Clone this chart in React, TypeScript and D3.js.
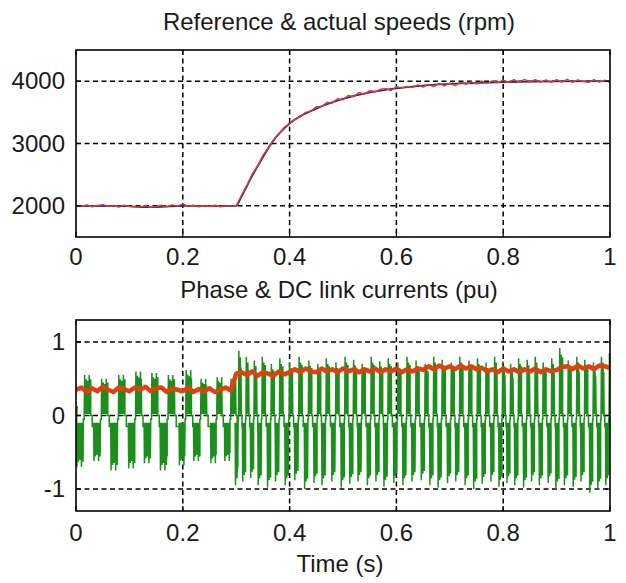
import React from "react";
import * as d3 from "d3";

// ---------- data ----------
const X_TICKS = [0, 0.2, 0.4, 0.6, 0.8, 1];
const X_TICK_LABELS = ["0", "0.2", "0.4", "0.6", "0.8", "1"];
const SPEED_TICKS = [2000, 3000, 4000];
const SPEED_TICK_LABELS = ["2000", "3000", "4000"];
const CURRENT_TICKS = [-1, 0, 1];
const CURRENT_TICK_LABELS = ["-1", "0", "1"];

const TITLE_SPEED = "Reference & actual speeds (rpm)";
const TITLE_CURRENT = "Phase & DC link currents (pu)";
const X_LABEL = "Time (s)";

// reference speed (blue), key points
const REF_T = [0, 0.1, 0.12, 0.15, 0.2, 0.3, 0.31, 0.33, 0.35, 0.37, 0.4, 0.45, 0.5, 0.55, 0.6, 0.65, 0.7, 0.8, 0.9, 1.0];
const REF_SPEED = [2000, 1995, 1980, 1980, 2000, 2000, 2150, 2480, 2780, 3050, 3320, 3560, 3715, 3820, 3885, 3930, 3955, 3985, 3998, 4000];

// actual speed (red), sampled every 0.01 s from 0 to 1
const SAMPLE_STEP = 0.01;
const ACT_SPEED = [
  2010, 1990, 2015, 1985, 2005, 2020, 1990, 2005, 1980, 2010,
  1990, 1985, 1980, 2005, 1975, 1990, 2010, 1985, 2015, 1995,
  2030, 1990, 2010, 1985, 2005, 1990, 2010, 1985, 1995, 2000,
  2000, 2170, 2330, 2510, 2640, 2810, 2930, 3060, 3150, 3260,
  3320, 3390, 3430, 3500, 3520, 3590, 3590, 3660, 3650, 3720,
  3700, 3770, 3750, 3820, 3790, 3850, 3830, 3870, 3880, 3850,
  3910, 3890, 3915, 3900, 3940, 3905, 3950, 3910, 3965, 3925,
  3970, 3930, 3980, 3950, 3990, 3955, 4000, 3965, 4005, 3975,
  4015, 3980, 4025, 3985, 4030, 3990, 4025, 3985, 4020, 3980,
  4025, 3985, 4030, 3980, 4020, 3995, 3980, 4025, 3985, 4015,
  3975,
];

// DC link current (red), sampled every 0.01 s from 0 to 1
const DC_CURRENT = [
  0.35, 0.38, 0.32, 0.37, 0.33, 0.39, 0.35, 0.32, 0.38, 0.36,
  0.33, 0.38, 0.35, 0.39, 0.33, 0.37, 0.38, 0.32, 0.37, 0.35,
  0.33, 0.38, 0.32, 0.36, 0.33, 0.37, 0.32, 0.35, 0.38, 0.34,
  0.57,
  0.59, 0.55, 0.60, 0.54, 0.59, 0.57, 0.54, 0.60, 0.56, 0.59,
  0.63, 0.59, 0.64, 0.60, 0.59, 0.64, 0.60, 0.63, 0.59, 0.64,
  0.60, 0.63, 0.59, 0.63, 0.60, 0.64, 0.59, 0.63, 0.60, 0.64,
  0.59, 0.63, 0.60, 0.64, 0.62,
  0.67, 0.63, 0.68, 0.64, 0.67, 0.63, 0.68, 0.64, 0.67, 0.63, 0.65,
  0.60, 0.63, 0.59, 0.64, 0.60, 0.63, 0.59, 0.63, 0.60, 0.64, 0.59, 0.63, 0.60, 0.62,
  0.66, 0.67, 0.63, 0.68, 0.64, 0.67, 0.63, 0.68, 0.67, 0.65,
];

// phase current (green): per-cycle positive spike times and peaks
const PRE_SPIKES = [0.017, 0.049, 0.081, 0.113, 0.143, 0.174, 0.207, 0.235, 0.265, 0.291];
const PRE_POS = [0.55, 0.5, 0.55, 0.6, 0.58, 0.55, 0.62, 0.5, 0.52, 0.5];
const PRE_NEG = [-0.7, -0.62, -0.75, -0.72, -0.65, -0.75, -0.68, -0.62, -0.65, -0.62];

const POST_SPIKES = [
  0.305, 0.319, 0.334, 0.349, 0.366, 0.382, 0.400, 0.418, 0.436, 0.453,
  0.469, 0.487, 0.504, 0.520, 0.536, 0.553, 0.569, 0.585, 0.603, 0.620,
  0.637, 0.654, 0.670, 0.686, 0.703, 0.719, 0.736, 0.752, 0.768, 0.784,
  0.799, 0.814, 0.829, 0.845, 0.860, 0.875, 0.891, 0.906, 0.922, 0.938,
  0.953, 0.969, 0.984, 0.999,
];
const POST_POS = [
  0.88, 0.8, 0.75, 0.8, 0.7, 0.78, 0.72, 0.8, 0.75, 0.7,
  0.78, 0.72, 0.8, 0.76, 0.7, 0.8, 0.74, 0.78, 0.72, 0.8,
  0.75, 0.7, 0.8, 0.76, 0.72, 0.8, 0.75, 0.78, 0.72, 0.8,
  0.74, 0.7, 0.78, 0.76, 0.8, 0.72, 0.78, 0.92, 0.75, 0.8,
  0.76, 0.72, 0.8, 0.85,
];
const POST_NEG = [
  -0.95, -0.9, -0.85, -0.95, -0.98, -0.9, -0.95, -0.88, -1.0, -0.92,
  -0.95, -0.9, -0.98, -0.93, -0.9, -0.95, -0.9, -0.97, -0.92, -0.95,
  -0.9, -0.88, -0.95, -0.98, -0.92, -0.9, -0.95, -1.0, -0.93, -0.9,
  -0.97, -0.92, -0.95, -0.98, -0.9, -0.95, -0.92, -1.0, -0.95, -0.97,
  -0.9, -1.05, -1.0, -0.95,
];
// relative height of successive PWM chopping swings
const CHOP = [1, 0.82, 0.9, 0.74, 0.86, 0.78];

// ---------- helpers ----------
type Pt = [number, number];
type Block = { t0: number; t1: number; lo: number; hi: number };

function zigzag(pts: Pt[], t0: number, t1: number, lo: number, hi: number) {
  const step = 0.0007;
  const n = Math.max(2, Math.round((t1 - t0) / step));
  for (let k = 0; k <= n; k++) {
    const t = t0 + ((t1 - t0) * k) / n;
    const v = k % 2 === 0 ? lo : hi * CHOP[(k >> 1) % CHOP.length];
    pts.push([t, v]);
  }
}

function phaseCycles(pts: Pt[], blocks: Block[], spikes: number[], pos: number[], neg: number[]) {
  const n = Math.min(spikes.length, pos.length, neg.length);
  for (let i = 0; i < n; i++) {
    const ts = spikes[i];
    const p = i < n - 1 ? spikes[i + 1] - ts : ts - spikes[i - 1];
    const P = pos[i];
    const N = neg[i];
    const a = ts - 0.5 * p;
    const b = ts - 0.1 * p;
    const c = ts - 0.05 * p;
    const d = ts + 0.33 * p;
    const m = (d + ts + 0.5 * p) / 2;
    pts.push([a, -0.15]);
    zigzag(pts, a, b, -0.1, N);
    pts.push([b, -0.05], [c, -0.05]);
    zigzag(pts, c, d, 0.02, P);
    pts.push([d, 0], [m, 0], [m, -0.15]);
    blocks.push({ t0: a + 0.04 * p, t1: b, lo: -0.15, hi: 0.8 * N });
    blocks.push({ t0: c, t1: d - 0.03 * p, lo: 0.06, hi: 0.78 * P });
  }
}

// ---------- layout ----------
const W = 626;
const H = 583;
const LEFT = 76;
const RIGHT = 610;
const TOP1 = 50;
const BOT1 = 237;
const TOP2 = 320;
const BOT2 = 511;
const FONT = "'Liberation Sans', Arial, Helvetica, sans-serif";
const FS = 24;
const DASH = "5,3.5";
const GREEN = "#1b8f1b";
const RED = "#e0400e";
const BLUE = "#2626b4";

export default function App() {
  const x = d3.scaleLinear().domain([0, 1]).range([LEFT, RIGHT]);
  const ySpeed = d3.scaleLinear().domain([1500, 4500]).range([BOT1, TOP1]);
  const yCur = d3.scaleLinear().domain([-1.3, 1.3]).range([BOT2, TOP2]);

  const refLine = d3
    .line<number>()
    .x((_, i) => x(REF_T[i]))
    .y((v) => ySpeed(v))
    .curve(d3.curveMonotoneX);
  const actLine = d3
    .line<number>()
    .x((_, i) => x(i * SAMPLE_STEP))
    .y((v) => ySpeed(v));
  const dcLine = d3
    .line<number>()
    .x((_, i) => x(i * SAMPLE_STEP))
    .y((v) => yCur(v));

  const phasePts: Pt[] = [[0, 0.12], [0.002, 0.12]];
  const blocks: Block[] = [];
  phaseCycles(phasePts, blocks, PRE_SPIKES, PRE_POS, PRE_NEG);
  phaseCycles(phasePts, blocks, POST_SPIKES, POST_POS, POST_NEG);
  const phaseLine = d3
    .line<Pt>()
    .x((d) => x(Math.max(0, Math.min(1, d[0]))))
    .y((d) => yCur(d[1]));

  const grid = (top: number, bot: number, yTicks: number[], ys: (v: number) => number) => (
    <g>
      {X_TICKS.filter((t) => t > 0 && t < 1).map((t) => (
        <line key={"gx" + t} x1={x(t)} x2={x(t)} y1={top} y2={bot} stroke="#000" strokeWidth={1.5} strokeDasharray={DASH} />
      ))}
      {yTicks.map((v) => (
        <line key={"gy" + v} x1={LEFT} x2={RIGHT} y1={ys(v)} y2={ys(v)} stroke="#000" strokeWidth={1.5} strokeDasharray={DASH} />
      ))}
    </g>
  );

  const frame = (top: number, bot: number, yTicks: number[], ys: (v: number) => number) => (
    <g>
      {X_TICKS.map((t) => (
        <g key={"tx" + t}>
          <line x1={x(t)} x2={x(t)} y1={bot} y2={bot - 5} stroke="#000" strokeWidth={1.2} />
          <line x1={x(t)} x2={x(t)} y1={top} y2={top + 5} stroke="#000" strokeWidth={1.2} />
        </g>
      ))}
      {yTicks.map((v) => (
        <g key={"ty" + v}>
          <line x1={LEFT} x2={LEFT + 5} y1={ys(v)} y2={ys(v)} stroke="#000" strokeWidth={1.2} />
          <line x1={RIGHT} x2={RIGHT - 5} y1={ys(v)} y2={ys(v)} stroke="#000" strokeWidth={1.2} />
        </g>
      ))}
      <rect x={LEFT} y={top} width={RIGHT - LEFT} height={bot - top} fill="none" stroke="#000" strokeWidth={1.6} />
    </g>
  );

  const xLabels = (baseline: number) =>
    X_TICKS.map((t, i) => (
      <text key={"xl" + t} x={x(t)} y={baseline} textAnchor="middle" fontSize={FS} fill="#1a1a1a">
        {X_TICK_LABELS[i]}
      </text>
    ));

  return (
    <svg width={W} height={H} style={{ position: "absolute", left: 0, top: 0, background: "#fff" }} fontFamily={FONT}>
      <defs>
        <clipPath id="clip1">
          <rect x={LEFT} y={TOP1} width={RIGHT - LEFT} height={BOT1 - TOP1} />
        </clipPath>
        <clipPath id="clip2">
          <rect x={LEFT} y={TOP2} width={RIGHT - LEFT} height={BOT2 - TOP2} />
        </clipPath>
      </defs>
      <rect x={0} y={0} width={W} height={H} fill="#fff" />

      {/* ---------- top panel ---------- */}
      <text x={339} y={30} textAnchor="middle" fontSize={FS} fill="#1a1a1a">{TITLE_SPEED}</text>
      {grid(TOP1, BOT1, SPEED_TICKS, ySpeed)}
      <g clipPath="url(#clip1)">
        <path d={refLine(REF_SPEED) || ""} fill="none" stroke={BLUE} strokeWidth={1.8} />
        <path d={actLine(ACT_SPEED) || ""} fill="none" stroke={RED} strokeWidth={1.4} strokeLinejoin="round" />
      </g>
      {frame(TOP1, BOT1, SPEED_TICKS, ySpeed)}
      {SPEED_TICKS.map((v, i) => (
        <text key={"sl" + v} x={65} y={ySpeed(v) + 8} textAnchor="end" fontSize={FS} fill="#1a1a1a">
          {SPEED_TICK_LABELS[i]}
        </text>
      ))}
      {xLabels(265)}

      {/* ---------- bottom panel ---------- */}
      <text x={339} y={298} textAnchor="middle" fontSize={FS} fill="#1a1a1a">{TITLE_CURRENT}</text>
      {grid(TOP2, BOT2, CURRENT_TICKS, yCur)}
      <g clipPath="url(#clip2)">
        {blocks.map((bk, i) => (
          <rect
            key={"bk" + i}
            x={x(bk.t0)}
            width={Math.max(0, x(bk.t1) - x(bk.t0))}
            y={yCur(Math.max(bk.lo, bk.hi))}
            height={Math.abs(yCur(bk.lo) - yCur(bk.hi))}
            fill={GREEN}
          />
        ))}
        <path d={phaseLine(phasePts) || ""} fill="none" stroke={GREEN} strokeWidth={1.5} strokeLinejoin="miter" />
        <path d={dcLine(DC_CURRENT) || ""} fill="none" stroke={RED} strokeWidth={4.5} strokeLinejoin="round" />
      </g>
      {frame(TOP2, BOT2, CURRENT_TICKS, yCur)}
      {CURRENT_TICKS.map((v, i) => (
        <text key={"cl" + v} x={65} y={yCur(v) + 8} textAnchor="end" fontSize={FS} fill="#1a1a1a">
          {CURRENT_TICK_LABELS[i]}
        </text>
      ))}
      {xLabels(541)}
      <text x={340} y={572} textAnchor="middle" fontSize={FS} fill="#1a1a1a">{X_LABEL}</text>
    </svg>
  );
}
